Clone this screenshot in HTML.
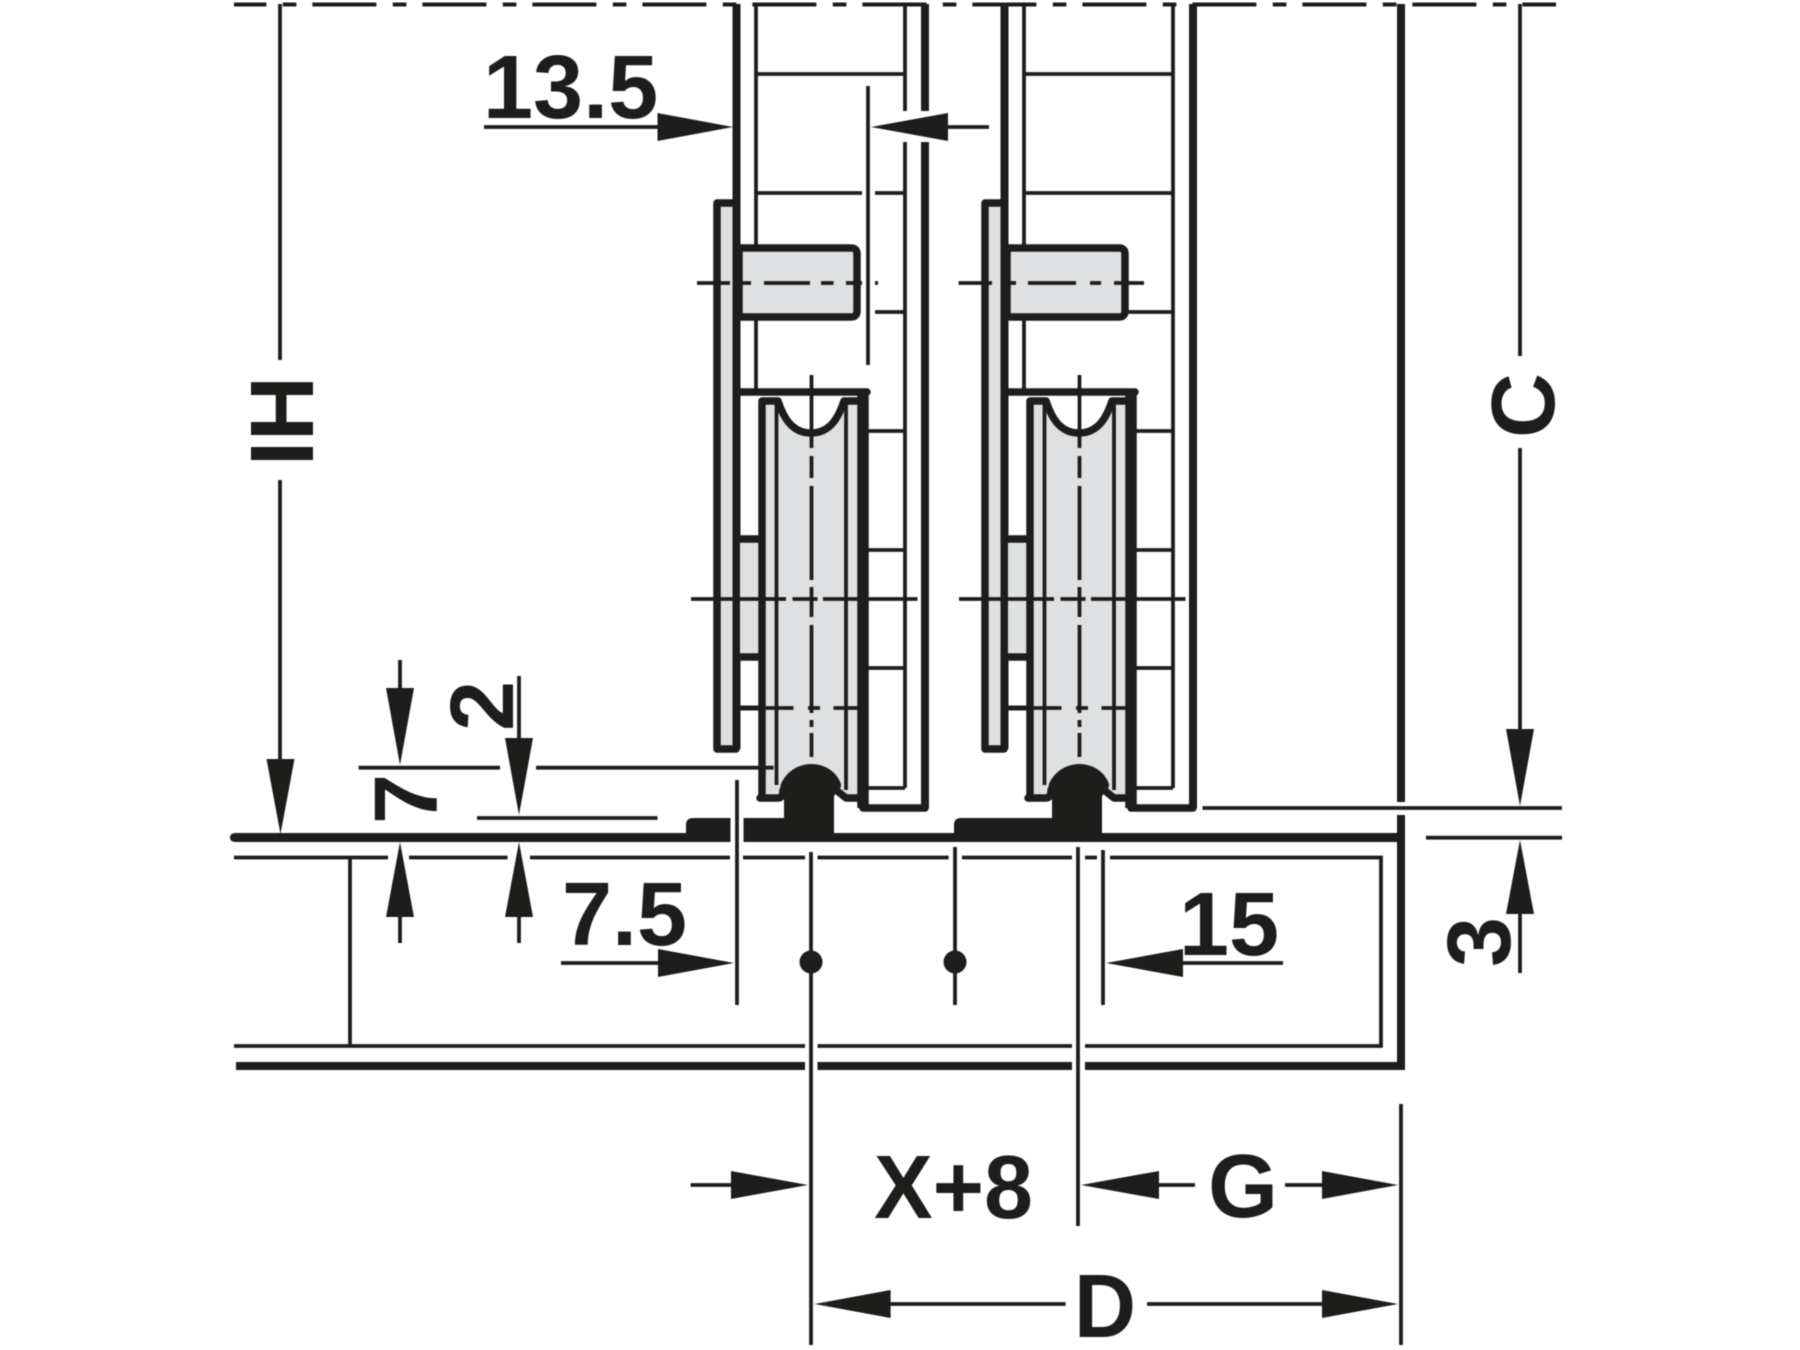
<!DOCTYPE html>
<html>
<head>
<meta charset="utf-8">
<style>
html,body{margin:0;padding:0;background:#fff;}
svg{display:block;filter:blur(.45px);}
text{font-family:"Liberation Sans",Arial,sans-serif;font-weight:700;font-size:90px;fill:#1d1d1b;}
.k{fill:#1d1d1b;stroke:none;}
.g{fill:#dfe0e1;stroke:none;}
.t{stroke:#1d1d1b;stroke-width:3.8;fill:none;}
.m{stroke:#1d1d1b;stroke-width:7.5;fill:none;stroke-linejoin:round;stroke-linecap:round;}
.b{stroke:#1d1d1b;stroke-width:8;fill:none;stroke-linejoin:round;}
</style>
</head>
<body>
<svg width="1800" height="1350" viewBox="0 0 1800 1350" xmlns="http://www.w3.org/2000/svg">
<rect width="1800" height="1350" fill="#fff"/>
<defs>
<g id="asm">
  <!-- plate -->
  <rect class="g" x="720" y="205" width="14" height="542"/>
  <path class="m" d="M733,203H717V749H736"/>
  <!-- door bars -->
  <line class="b" x1="736.5" y1="4" x2="736.5" y2="749"/>
  <line class="t" x1="756" y1="4" x2="756" y2="250"/>
  <line class="t" x1="756" y1="315" x2="756" y2="394"/>
  <line class="t" x1="756" y1="74" x2="905" y2="74"/>
  <line class="t" x1="756" y1="193" x2="905" y2="193"/>
  <!-- channel -->
  <line class="t" x1="905" y1="4" x2="905" y2="788"/>
  <line class="b" x1="925" y1="4" x2="925" y2="808"/>
  <path class="t" d="M868,431H905M868,550H905M868,668H905M868,788H905"/>
  <path class="m" d="M863,808H925"/>
  <!-- small grey block -->
  <rect class="g" x="740" y="542" width="19" height="112"/>
  <path class="m" d="M740,539H758M740,657H758"/>
  <line class="t" x1="740" y1="708" x2="760" y2="708" style="stroke-width:5"/>
  <!-- pin -->
  <path d="M739,248H851Q857,248 857,254V311Q857,317 851,317H739Z" fill="#dfe0e1" stroke="#1d1d1b" stroke-width="7.5" stroke-linejoin="round"/>
  <!-- wheel -->
  <path class="g" d="M765,404H778C782,416 790,433 811,435C832,433 840,416 844,404H857V795H846L837,788H785L778,795H765Z"/>
  <path class="m" d="M762,798V401H778C783,416 791,433 811,433C831,433 839,416 844,401H860"/>
  <path class="t" d="M776.5,404V785M846,404V790"/>
  <path class="m" d="M760,798H778Q783,798 783,790M836,790L846,798H862"/>
  <line x1="863" y1="392" x2="863" y2="808" stroke="#1d1d1b" stroke-width="11.5"/>
  <path class="m" d="M739,392H867"/>
  <!-- centre lines -->
  <path class="t" d="M811.5,375V433M811.5,436V448M811.5,456V478M811.5,486V580M811.5,587V617M811.5,625V713M811.5,720V727M811.5,733V757"/>
  <path class="t" d="M739,708H793.5M808,708H820M833.5,708H857.5"/>
  <path class="t" d="M691,599H786M792.5,599H817.5M823,599H917.5"/>
  <!-- dome and stem -->
  <path class="k" d="M784,842V798C784,792 779,790 781,784C786,772 798,764 811.5,764C825,764 837,772 841,784C842,790 834,792 834,798V842Z"/>
</g>
</defs>

<use href="#asm"/>
<use href="#asm" x="268"/>

<!-- pin centre lines + stubs -->
<path class="t" d="M697,283H730M739,283H751M764,283H810M821,283H833.6M846,283H862M875,283H878"/>
<path class="t" d="M958.6,283H992M1003,283H1016M1028,283H1076M1090,283H1101M1114,283H1144"/>
<path class="t" d="M875,312H905M1125,312H1173"/>
<!-- first assembly breaks -->
<rect x="862" y="187" width="13" height="12" fill="#fff"/>
<rect x="899" y="111" width="34" height="31" fill="#fff"/>
<line class="t" x1="868" y1="86" x2="868" y2="365"/>

<!-- top centre dash line -->
<line x1="234" y1="4.5" x2="1556" y2="4.5" stroke="#1d1d1b" stroke-width="4" stroke-dasharray="64 16.4 13.6 16" stroke-dashoffset="31.6"/>

<!-- right wall, rail -->
<line class="b" x1="1193" y1="4" x2="1193" y2="808"/>
<line class="b" x1="1401" y1="4" x2="1401" y2="802"/>
<line class="b" x1="1401" y1="815" x2="1401" y2="1070"/>
<path class="k" d="M236,833H730.5V842H236Q230,842 230,837.5Q230,833 236,833Z"/>
<path class="k" d="M686,842V825Q686,818 693,818H730.5V842Z"/>
<path class="k" d="M743.5,818H784V842H743.5Z"/>
<rect class="k" x="743.5" y="833" width="660" height="9"/>
<path class="k" d="M954,842V825Q954,818 961,818H1052V842Z"/>

<!-- lower frame -->
<path class="t" d="M234,857.5H388M409,857.5H507.5M530,857.5H730M743,857.5H805M817.5,857.5H948.6M962,857.5H1072M1085,857.5H1097M1110,857.5H1381V1046H1085M1072,1046H817.5M805,1046H234"/>
<line class="t" x1="350" y1="857" x2="350" y2="1046"/>
<path d="M236,1066H805M817.5,1066H1072M1085,1066H1404" stroke="#1d1d1b" stroke-width="8" fill="none"/>

<!-- dimension lines -->
<path class="t" d="M280,4V360M280,480V760"/>
<path class="t" d="M400,660V690M400,915V943"/>
<path class="t" d="M519,676V740M519,915V943"/>
<path class="t" d="M358.6,767.7H500M536,767.7H773.6"/>
<path class="t" d="M477,818H657.5"/>
<path class="t" d="M737,780V1005"/>
<path class="t" d="M811,852V1345"/>
<path class="t" d="M955,847V1005"/>
<path class="t" d="M1078,847V1226"/>
<path class="t" d="M1103,850V1005"/>
<path class="t" d="M1401,1104V1345"/>
<path class="t" d="M1520,4V356M1520,448V730M1520,912V973"/>
<path class="t" d="M1202.5,808H1562"/>
<path class="t" d="M1426,837.7H1562"/>
<path class="t" d="M484,127H660M946,127H989"/>
<path class="t" d="M561,963H660M1181,963H1283"/>
<path class="t" d="M690.6,1185H733M1157,1185H1195M1285,1185H1324"/>
<path class="t" d="M888,1304H1065.6M1147,1304H1324"/>
<circle class="k" cx="811" cy="962" r="11.5"/>
<circle class="k" cx="955" cy="962" r="11.5"/>

<!-- arrowheads -->
<path class="k" d="M733,127L657.5,113V141Z"/>
<path class="k" d="M871,127L948,113V141Z"/>
<path class="k" d="M734,963L658,949V977Z"/>
<path class="k" d="M1106,963L1183,949V977Z"/>
<path class="k" d="M280.5,834L266.5,759H294.5Z"/>
<path class="k" d="M400,765L386,688H414Z"/>
<path class="k" d="M519,815L505,738H533Z"/>
<path class="k" d="M400,842L386,917H414Z"/>
<path class="k" d="M519,842L505,917H533Z"/>
<path class="k" d="M1520,806L1506,729H1534Z"/>
<path class="k" d="M1520,840L1506,914H1534Z"/>
<path class="k" d="M808,1185L731,1171V1199Z"/>
<path class="k" d="M1081,1185L1159,1171V1199Z"/>
<path class="k" d="M1398,1185L1322,1171V1199Z"/>
<path class="k" d="M814.6,1304L890.6,1290V1318Z"/>
<path class="k" d="M1398,1304L1322,1290V1318Z"/>

<!-- labels -->
<text x="483" y="118">13.5</text>
<text x="562" y="945">7.5</text>
<text x="1179" y="955">15</text>
<text x="874" y="1218" textLength="159" lengthAdjust="spacingAndGlyphs">X+8</text>
<text x="1208" y="1217">G</text>
<text x="1074" y="1337" textLength="62" lengthAdjust="spacingAndGlyphs">D</text>
<text transform="translate(313,466) rotate(-90)">IH</text>
<text transform="translate(1554,438) rotate(-90)">C</text>
<text transform="translate(437,824) rotate(-90)">7</text>
<text transform="translate(513,731) rotate(-90)">2</text>
<text transform="translate(1510,967) rotate(-90)">3</text>
</svg>
</body>
</html>
